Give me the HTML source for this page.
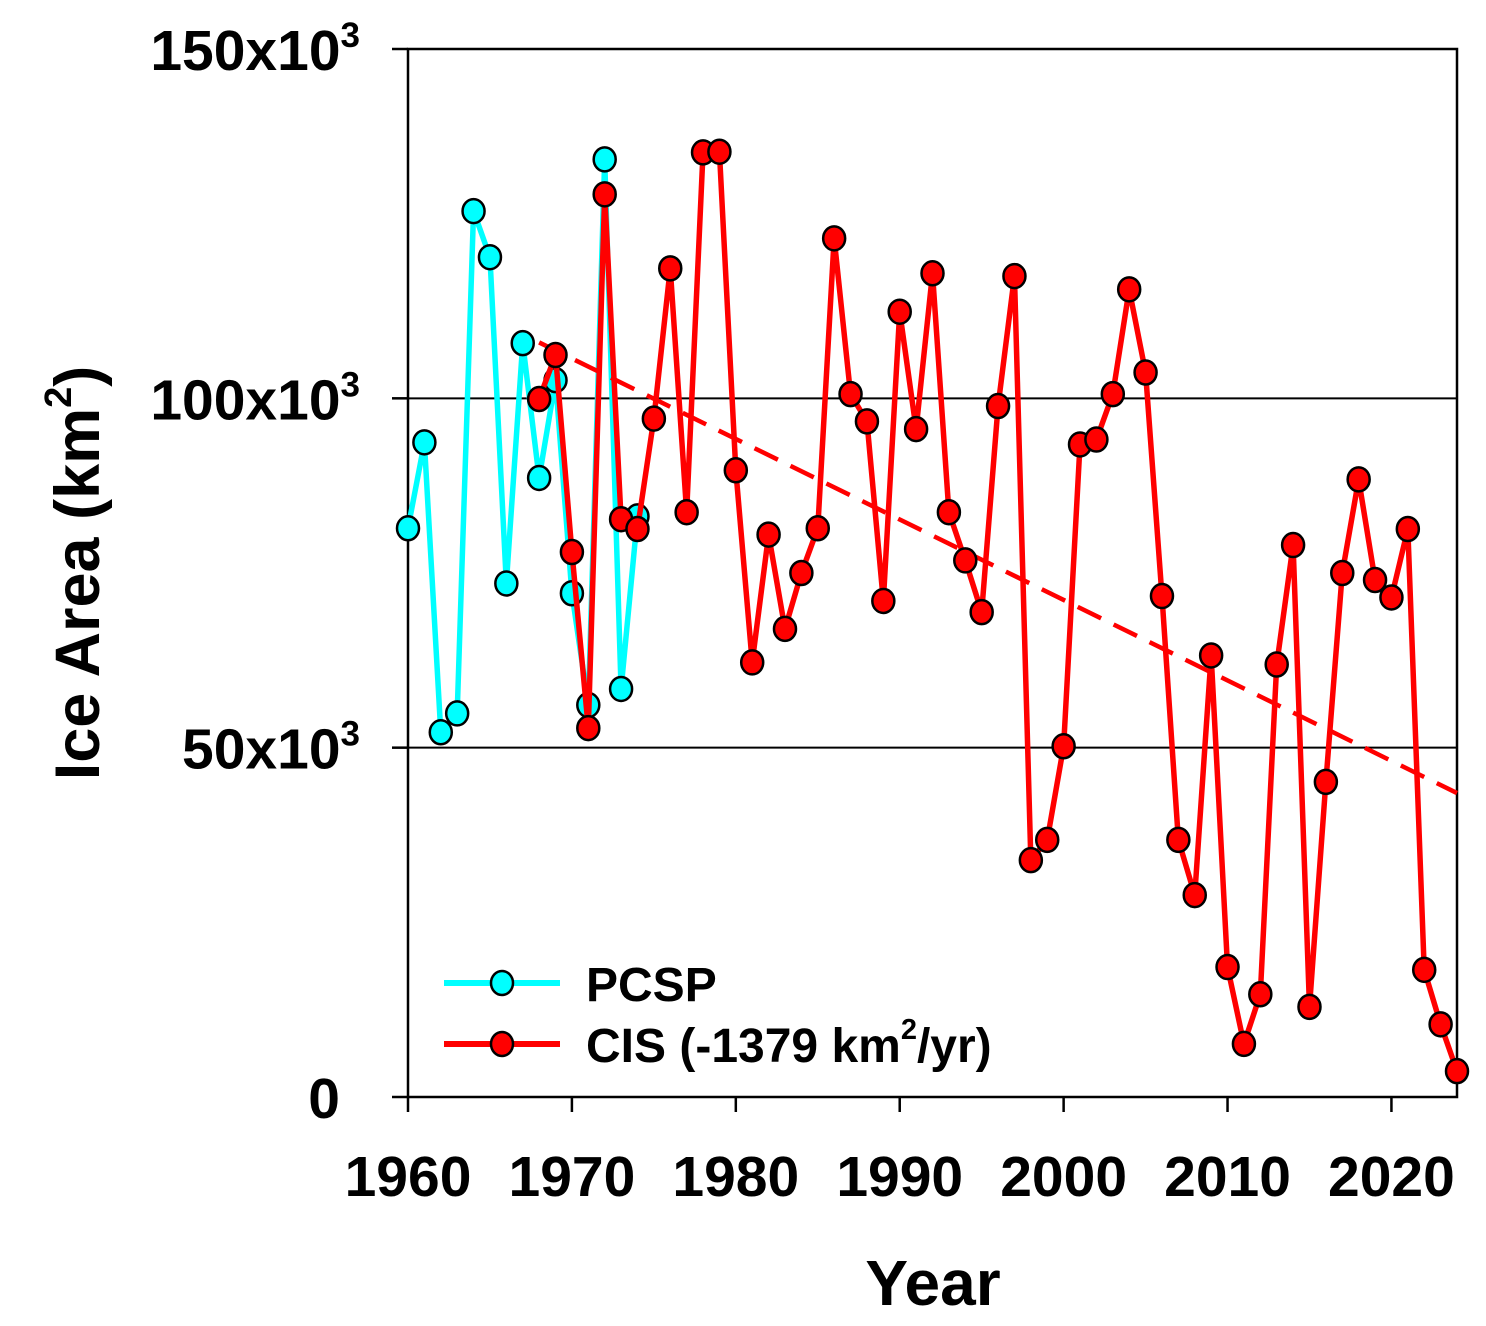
<!DOCTYPE html>
<html><head><meta charset="utf-8"><style>
html,body{margin:0;padding:0;background:#fff}
svg{display:block}
text{font-family:"Liberation Sans",Arial,sans-serif;font-weight:bold;fill:#000}
</style></head><body>
<svg id="chart" width="1486" height="1326" viewBox="0 0 1486 1326" xmlns="http://www.w3.org/2000/svg">
<g id="axes"></g>
<g id="series"></g>
<g id="legend">
  <line x1="444" y1="983" x2="560" y2="983" stroke="#00ffff" stroke-width="6"/>
  <ellipse cx="502" cy="983" rx="11" ry="12" fill="#00ffff" stroke="#000" stroke-width="2.5"/>
  <text x="586" y="1001" font-size="48">PCSP</text>
  <line x1="444" y1="1044" x2="560" y2="1044" stroke="#ff0000" stroke-width="6"/>
  <ellipse cx="502" cy="1044" rx="11" ry="12" fill="#ff0000" stroke="#000" stroke-width="2.5"/>
  <text x="586" y="1062" font-size="48">CIS (-1379 km<tspan font-size="29" dy="-23">2</tspan><tspan dy="23">/yr)</tspan></text>
</g>
<text x="933" y="1305" font-size="64" text-anchor="middle">Year</text>
<text transform="translate(99,573) rotate(-90)" font-size="63" text-anchor="middle">Ice Area (km<tspan font-size="38" dy="-28">2</tspan><tspan dy="28">)</tspan></text>
</svg>
<script>
const xTicks=[1960,1970,1980,1990,2000,2010,2020];
const yTicks=[0,50,100,150];
const pcspYears=[1960,1961,1962,1963,1964,1965,1966,1967,1968,1969,1970,1971,1972,1973,1974];
const pcspValues=[81.4,93.7,52.2,54.9,126.8,120.2,73.5,107.9,88.6,102.6,72.1,56.1,134.2,58.4,83.1];
const cisYears=[1968,1969,1970,1971,1972,1973,1974,1975,1976,1977,1978,1979,1980,1981,1982,1983,1984,1985,1986,1987,1988,1989,1990,1991,1992,1993,1994,1995,1996,1997,1998,1999,2000,2001,2002,2003,2004,2005,2006,2007,2008,2009,2010,2011,2012,2013,2014,2015,2016,2017,2018,2019,2020,2021,2022,2023,2024];
const cisValues=[99.9,106.2,78.0,52.8,129.2,82.7,81.3,97.1,118.6,83.7,135.2,135.3,89.7,62.2,80.5,67.0,75.0,81.4,122.9,100.6,96.7,71.0,112.4,95.6,117.9,83.7,76.8,69.4,98.9,117.5,33.9,36.8,50.2,93.4,94.1,100.6,115.6,103.7,71.7,36.8,28.9,63.2,18.6,7.6,14.7,61.9,79.0,12.9,45.1,75.0,88.4,74.0,71.5,81.3,18.2,10.4,3.7];
const trendYears=[1968,2024];
const trendValues=[108.0,43.5];

const X0=408,X1=1457,Y0=1097,Y1=49;
const xs=y=>X0+(y-1960)*(X1-X0)/64;
const ys=v=>Y0-v*(Y0-Y1)/150;
const NS='http://www.w3.org/2000/svg';
function mk(tag,attrs,parent){const e=document.createElementNS(NS,tag);for(const k in attrs)e.setAttribute(k,attrs[k]);parent.appendChild(e);return e;}
const axes=document.getElementById('axes'),series=document.getElementById('series');

yTicks.forEach(v=>{
  if(v>0&&v<150){const g=mk('line',{x1:X0,x2:X1,y1:ys(v),y2:ys(v),stroke:'#000','stroke-width':2},axes);
  
  }
  const t=mk('line',{x1:X0-16,x2:X0,y1:ys(v),y2:ys(v),stroke:'#000','stroke-width':2.5},axes);
  
  
  const lab=mk('text',{x:v===0?340:360,y:ys(v)+21,'font-size':57,'text-anchor':'end'},axes);
  
  
  if(v===0){lab.textContent='0';}
  else{lab.textContent=v+'x10';const s=mk('tspan',{'font-size':35,dy:-23},lab);s.textContent='3';}
});
xTicks.forEach(y=>{
  const t=mk('line',{x1:xs(y),x2:xs(y),y1:Y0,y2:Y0+15,stroke:'#000','stroke-width':2.5},axes);
  
  
  const lab=mk('text',{x:xs(y),y:1196,'font-size':57,'text-anchor':'middle'},axes);
  
  
  lab.textContent=y;
});
const frame=mk('rect',{x:X0,y:Y1,width:X1-X0,height:Y0-Y1,fill:'none',stroke:'#000','stroke-width':2.5},axes);



function drawSeries(years,vals,color,name){
  const pts=years.map((y,i)=>xs(y)+','+ys(vals[i])).join(' ');
  const pl=mk('polyline',{points:pts,fill:'none',stroke:color,'stroke-width':5.5,'stroke-linejoin':'round'},series);
  
  
  years.forEach((y,i)=>{
    const c=mk('ellipse',{cx:xs(y),cy:ys(vals[i]),rx:11,ry:12,fill:color,stroke:'#000','stroke-width':2.5},series);
    
    
  });
}
drawSeries(pcspYears,pcspValues,'#00ffff','pcsp');
const tr=mk('line',{x1:xs(trendYears[0]),y1:ys(trendValues[0]),x2:xs(trendYears[1]),y2:ys(trendValues[1]),stroke:'#ff0000','stroke-width':4.5,'stroke-dasharray':'26,14'},series);


drawSeries(cisYears,cisValues,'#ff0000','cis');
</script>
</body></html>
